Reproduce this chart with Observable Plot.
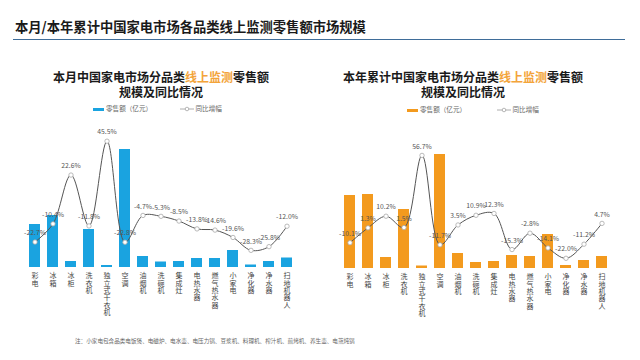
<!DOCTYPE html>
<html><head><meta charset="utf-8">
<script src="https://cdn.jsdelivr.net/npm/d3@7"></script>
<script src="https://cdn.jsdelivr.net/npm/@observablehq/plot@0.6"></script>
<style>
body{margin:0;background:#fff;font-family:"Noto Sans CJK SC","Noto Sans",sans-serif;}
#wrap{position:relative;width:640px;height:360px;overflow:hidden;background:#fff;}
.abs{position:absolute;white-space:nowrap;}
.title{left:15px;top:18px;font-size:13.3px;font-weight:bold;color:#1a1a1a;line-height:18px;}
.rule{left:13px;top:39px;width:612px;height:0;border-top:1.6px solid #3f6d99;}
.sub{font-size:12px;font-weight:bold;color:#1a1a1a;line-height:15px;text-align:center;width:320px;}
.hl{color:#f3a43a;}
.leg{font-size:6.6px;color:#666;line-height:8px;}
.sw{display:inline-block;width:11px;height:3px;vertical-align:middle;margin-right:2px;}
.note{left:75px;top:337px;font-size:5.6px;color:#666;line-height:8px;}
svg{overflow:visible;}
</style></head>
<body><div id="wrap">
<div class="abs title">本月/本年累计中国家电市场各品类线上监测零售额市场规模</div>
<div class="abs rule"></div>
<div class="abs sub" style="left:1px;top:69px;">本月中国家电市场分品类<span class="hl">线上监测</span>零售额<br>规模及同比情况</div>
<div class="abs sub" style="left:303px;top:69px;">本年累计中国家电市场分品类<span class="hl">线上监测</span>零售额<br>规模及同比情况</div>
<div class="abs leg" style="left:93px;top:104px;"><span class="sw" style="background:#1aa3e0"></span>零售额（亿元）</div>
<div class="abs leg" style="left:180px;top:104px;"><svg width="14" height="8" style="vertical-align:middle"><line x1="0" y1="4" x2="14" y2="4" stroke="#999" stroke-width="0.8"/><circle cx="7" cy="4" r="1.8" fill="#fff" stroke="#999" stroke-width="0.7"/></svg> 同比增幅</div>
<div class="abs leg" style="left:407px;top:105px;"><span class="sw" style="background:#f39a1e"></span>零售额（亿元）</div>
<div class="abs leg" style="left:497px;top:105px;"><svg width="14" height="8" style="vertical-align:middle"><line x1="0" y1="4" x2="14" y2="4" stroke="#999" stroke-width="0.8"/><circle cx="7" cy="4" r="1.8" fill="#fff" stroke="#999" stroke-width="0.7"/></svg> 同比增幅</div>
<div class="abs note">注：小家电包含品类电饭煲、电磁炉、电水壶、电压力锅、豆浆机、料理机、榨汁机、煎烤机、养生壶、电蒸炖锅</div>
</div>
<script>
const categories = ["彩电","冰箱","冰柜","洗衣机","独立式干衣机","空调","油烟机","洗碗机","集成灶","电热水器","燃气热水器","小家电","净化器","净水器","扫地机器人"];
const monthSales = [43,52,6,38,2,118,11,5.5,6,9,9,17,2.5,6,9.5];
const monthYoY = [-22.7,-10.4,22.6,-11.8,45.5,-22.8,-4.7,-5.3,-8.5,-13.8,-14.6,-19.6,-28.3,-25.8,-12.0];
const ytdSales = [73,74,11,59,2.5,114,15,6,7,13,12,34,3,8,12];
const ytdYoY = [-10.1,1.3,10.2,1.5,56.7,-11.7,3.5,10.9,12.3,-15.3,-2.8,-14.1,-22.0,-11.2,4.7];

const wrap = document.getElementById("wrap");
const maxLen = d3.max(categories, c => c.length);

function panel({left, top, ml, mr, mb, barMax, pctDomain, sales, yoy, color}) {
  const data = categories.map((c, i) => ({cat: c, v: sales[i], p: yoy[i]}));
  const common = {width: 320, height: 200, marginLeft: ml, marginRight: mr, marginTop: 0, marginBottom: mb,
    x: {type: "band", domain: categories, padding: 0.37, axis: null},
    style: {fontFamily: "Noto Sans CJK SC, Noto Sans, sans-serif", background: "transparent", overflow: "visible"}};
  // vertical category labels: one character per text element, stacked
  const labelMarks = d3.range(maxLen).map(k =>
    Plot.text(categories.filter(c => c.length > k), {x: d => d, y: () => 0, text: d => d[k],
      lineAnchor: "top", dy: 6 + k * 7.3, fontSize: 7, fill: "#444"}));
  const bars = Plot.plot({...common,
    y: {domain: [0, barMax], axis: null},
    marks: [
      Plot.barY(data, {x: "cat", y: "v", fill: color}),
      ...labelMarks
    ]});
  const line = Plot.plot({...common,
    y: {domain: pctDomain, axis: null},
    marks: [
      Plot.line(data, {x: "cat", y: "p", curve: "catmull-rom", stroke: "#555", strokeWidth: 1}),
      Plot.dot(data, {x: "cat", y: "p", r: 2.2, fill: "#fff", stroke: "#aaa", strokeWidth: 0.8}),
      Plot.text(data, {x: "cat", y: "p", text: d => d.p.toFixed(1) + "%", dy: -9, fontSize: 6.8, fill: "#555"})
    ]});
  for (const n of [bars, line]) {
    n.style.position = "absolute"; n.style.left = left + "px"; n.style.top = top + "px";
    wrap.appendChild(n);
  }
}

panel({left: 0, top: 120, ml: 15, mr: 13, mb: 53, barMax: 147, pctDomain: [-39.9, 59.5],
  sales: monthSales, yoy: monthYoY, color: "#1aa3e0"});
panel({left: 320, top: 120, ml: 10, mr: 18, mb: 52, barMax: 148, pctDomain: [-29.8, 83.4],
  sales: ytdSales, yoy: ytdYoY, color: "#f39a1e"});
</script>
</body></html>
